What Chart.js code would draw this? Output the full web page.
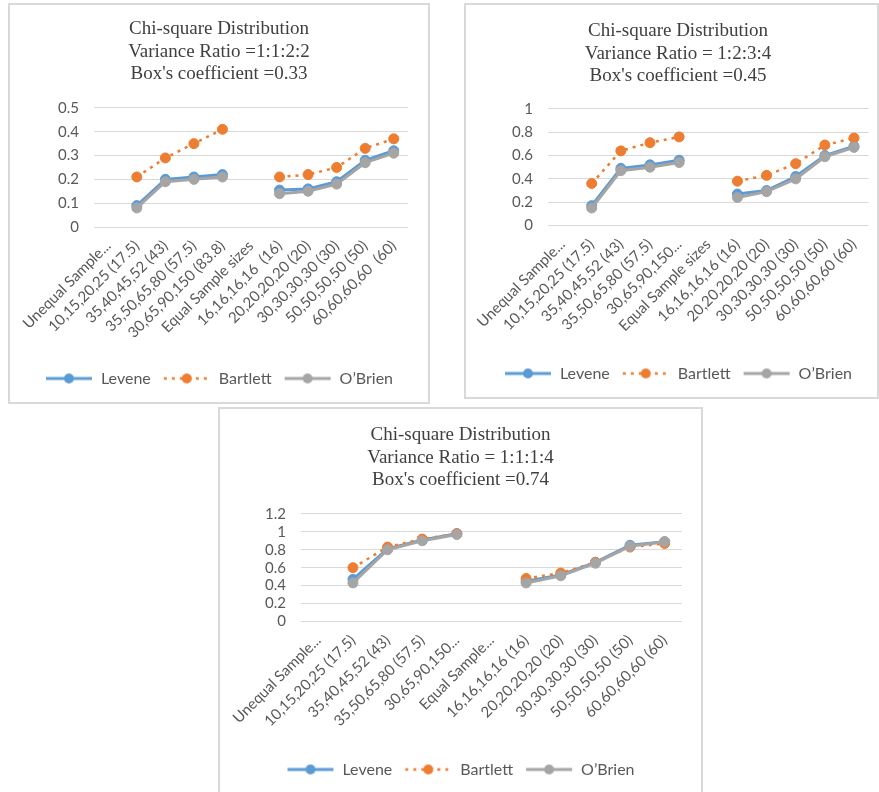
<!DOCTYPE html>
<html>
<head>
<meta charset="utf-8">
<title>Chi-square Distribution</title>
<script src="https://cdn.jsdelivr.net/npm/chart.js@4.4.0/dist/chart.umd.min.js"></script>
<style>
    html, body { margin: 0; padding: 0; background: #fff; }
    body { width: 879px; height: 792px; position: relative; overflow: hidden; }
    .panel { position: absolute; box-sizing: border-box; border: 2px solid #d9d9d9; background: #fff; }
    .panel canvas { position: absolute; left: 0; top: 0; }
</style>
</head>
<body>
<div class="panel" style="left:8px;top:3px;width:422px;height:401px">
    <canvas id="chart-1" width="418" height="397"></canvas>
</div>
<div class="panel" style="left:464px;top:3px;width:415px;height:396px">
    <canvas id="chart-2" width="411" height="392"></canvas>
</div>
<div class="panel" style="left:218px;top:407px;width:485px;height:395px">
    <canvas id="chart-3" width="481" height="391"></canvas>
</div>
<script>
// categories (x axis) of the three charts
const categories1 = ['Unequal Sample...', '10,15,20,25 (17.5)', '35,40,45,52 (43)', '35,50,65,80 (57.5)', '30,65,90,150 (83.8)', 'Equal Sample sizes', '16,16,16,16  (16)', '20,20,20,20 (20)', '30,30,30,30 (30)', '50,50,50,50 (50)', '60,60,60,60  (60)'];
const categories2 = ['Unequal Sample...', '10,15,20,25 (17.5)', '35,40,45,52 (43)', '35,50,65,80 (57.5)', '30,65,90,150...', 'Equal Sample sizes', '16,16,16,16 (16)', '20,20,20,20 (20)', '30,30,30,30 (30)', '50,50,50,50 (50)', '60,60,60,60 (60)'];
const categories3 = ['Unequal Sample...', '10,15,20,25 (17.5)', '35,40,45,52 (43)', '35,50,65,80 (57.5)', '30,65,90,150...', 'Equal Sample...', '16,16,16,16 (16)', '20,20,20,20 (20)', '30,30,30,30 (30)', '50,50,50,50 (50)', '60,60,60,60 (60)'];

// Variance ratio 1:1:2:2
const levene1   = [null, 0.09, 0.20, 0.21, 0.22, null, 0.155, 0.16, 0.19, 0.28, 0.32];
const bartlett1 = [null, 0.21, 0.29, 0.35, 0.41, null, 0.21, 0.22, 0.25, 0.33, 0.37];
const obrien1   = [null, 0.08, 0.19, 0.20, 0.21, null, 0.14, 0.15, 0.18, 0.27, 0.31];

// Variance ratio 1:2:3:4
const levene2   = [null, 0.17, 0.49, 0.52, 0.56, null, 0.27, 0.30, 0.42, 0.60, 0.68];
const bartlett2 = [null, 0.36, 0.64, 0.71, 0.76, null, 0.38, 0.43, 0.53, 0.69, 0.75];
const obrien2   = [null, 0.15, 0.47, 0.50, 0.54, null, 0.24, 0.29, 0.40, 0.59, 0.67];

// Variance ratio 1:1:1:4
const levene3   = [null, 0.47, 0.81, 0.91, 0.98, null, 0.45, 0.52, 0.66, 0.85, 0.89];
const bartlett3 = [null, 0.60, 0.83, 0.92, 0.98, null, 0.48, 0.54, 0.66, 0.83, 0.87];
const obrien3   = [null, 0.43, 0.80, 0.90, 0.97, null, 0.43, 0.51, 0.65, 0.84, 0.89];

const titles1 = ['Chi-square Distribution', 'Variance Ratio =1:1:2:2', "Box's coefficient =0.33"];
const titles2 = ['Chi-square Distribution', 'Variance Ratio = 1:2:3:4', "Box's coefficient =0.45"];
const titles3 = ['Chi-square Distribution', 'Variance Ratio = 1:1:1:4', "Box's coefficient =0.74"];

const yMax1 = 0.5, yStep1 = 0.1;
const yMax2 = 1, yStep2 = 0.2;
const yMax3 = 1.2, yStep3 = 0.2;

const seriesNames = ['Levene', 'Bartlett', "O\u2019Brien"];

const BLUE = '#5b9bd5';
const ORANGE = '#ed7d31';
const GREY = '#a5a5a5';
const SANS = 'Lato, "Open Sans", sans-serif';

// small line + marker picture used as legend symbol
function makeSymbol(color, dash) {
    const c = document.createElement('canvas');
    c.width = 48;
    c.height = 12;
    const ctx = c.getContext('2d');
    ctx.strokeStyle = color;
    ctx.lineWidth = dash ? 2.5 : 3;
    ctx.setLineDash(dash || []);
    ctx.beginPath();
    ctx.moveTo(1, 6);
    ctx.lineTo(47, 6);
    ctx.stroke();
    ctx.setLineDash([]);
    ctx.fillStyle = color;
    ctx.beginPath();
    ctx.arc(24, 6, 5, 0, Math.PI * 2);
    ctx.fill();
    return c;
}

const symbols = [makeSymbol(BLUE), makeSymbol(ORANGE, [3, 5]), makeSymbol(GREY)];

function makeDataset(label, data, color, dash, order) {
    return {
        label: label,
        data: data,
        borderColor: color,
        backgroundColor: color,
        borderWidth: dash ? 2.5 : 3,
        borderDash: dash || [],
        pointRadius: 5,
        pointBorderWidth: 1,
        pointBackgroundColor: color,
        pointBorderColor: color,
        spanGaps: false,
        tension: 0,
        order: order
    };
}

function buildChart(id, labels, series, titles, yMax, yStep, lay) {
    const ctx = document.getElementById(id).getContext('2d');
    return new Chart(ctx, {
        type: 'line',
        data: {
            labels: labels,
            datasets: [
                makeDataset(seriesNames[0], series[0], BLUE, null, 2),
                makeDataset(seriesNames[1], series[1], ORANGE, [3, 5], 1),
                makeDataset(seriesNames[2], series[2], GREY, null, 0)
            ]
        },
        options: {
            responsive: false,
            animation: false,
            layout: {
                padding: { top: 0, left: lay.padLeft, right: lay.padRight, bottom: lay.padBottom }
            },
            plugins: {
                title: {
                    display: true,
                    text: titles,
                    color: '#404040',
                    font: { family: '"Liberation Serif", "Times New Roman", serif', size: 19, weight: 'normal', lineHeight: 1.2 },
                    padding: { top: lay.titleTop, bottom: lay.titleBottom }
                },
                legend: {
                    position: 'bottom',
                    labels: {
                        usePointStyle: true,
                        pointStyleWidth: 48,
                        padding: 12,
                        color: '#595959',
                        font: { family: SANS, size: 16 },
                        generateLabels: chart => chart.data.datasets.map((ds, i) => ({
                            text: ds.label,
                            fillStyle: ds.borderColor,
                            strokeStyle: ds.borderColor,
                            fontColor: '#595959',
                            pointStyle: symbols[i],
                            lineWidth: 0,
                            hidden: false,
                            datasetIndex: i
                        }))
                    }
                },
                tooltip: { enabled: false }
            },
            scales: {
                x: {
                    offset: true,
                    grid: { display: false, drawTicks: false },
                    border: { display: false },
                    ticks: {
                        autoSkip: false,
                        minRotation: 45,
                        maxRotation: 45,
                        padding: 10,
                        color: '#595959',
                        font: { family: SANS, size: 15 }
                    },
                    afterFit: scale => { scale.height = lay.xHeight; }
                },
                y: {
                    min: 0,
                    max: yMax,
                    grid: { color: '#d9d9d9', lineWidth: 1, drawTicks: false },
                    border: { display: false },
                    ticks: {
                        stepSize: yStep,
                        autoSkip: false,
                        padding: 15,
                        color: '#595959',
                        font: { family: SANS, size: 15 },
                        callback: value => String(Number(value.toFixed(2)))
                    },
                    afterFit: scale => { scale.width = lay.yWidth; }
                }
            }
        }
    });
}

buildChart('chart-1', categories1, [levene1, bartlett1, obrien1], titles1, yMax1, yStep1,
    { padLeft: 20, padRight: 20, padBottom: 5.5, titleTop: 12.5, titleBottom: 22, xHeight: 131.5, yWidth: 64 });
buildChart('chart-2', categories2, [levene2, bartlett2, obrien2], titles2, yMax2, yStep2,
    { padLeft: 19, padRight: 6, padBottom: 5.5, titleTop: 14.5, titleBottom: 21, xHeight: 128, yWidth: 63 });
buildChart('chart-3', categories3, [levene3, bartlett3, obrien3], titles3, yMax3, yStep3,
    { padLeft: 19, padRight: 19, padBottom: 12.5, titleTop: 14.5, titleBottom: 22, xHeight: 128, yWidth: 62 });
</script>
</body>
</html>
